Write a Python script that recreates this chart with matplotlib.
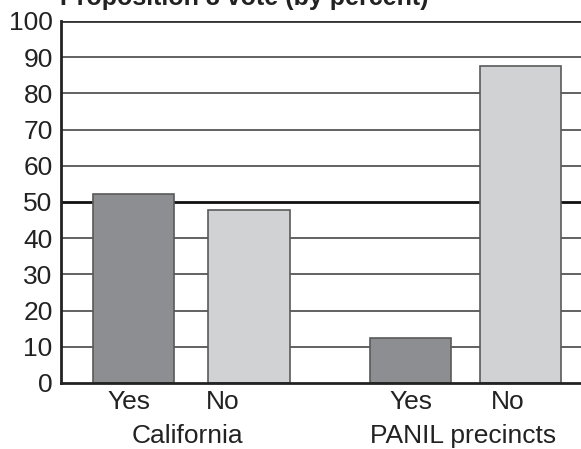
import matplotlib.pyplot as plt

plt.rcParams['font.family'] = ['Liberation Sans', 'DejaVu Sans']

# Данные
groups = ['California', 'PANIL precincts']
answers = ['Yes', 'No', 'Yes', 'No']
values = [52.3, 47.7, 12.5, 87.5]
positions = [0, 1.05, 2.52, 3.52]
label_pos = [-0.04, 0.81, 2.52, 3.40]
yticks = list(range(0, 101, 10))

colors = ['#8d8e91', '#d1d2d4', '#8d8e91', '#d1d2d4']

fig = plt.figure(figsize=(5.81, 4.49), dpi=100)
ax = fig.add_axes([61 / 581, 1 - 383 / 449, 1 - 61 / 581, (383 - 21) / 449])

# Сетка
for y in yticks[1:]:
    if y == 50:
        ax.axhline(y, color='#111111', linewidth=2.0, zorder=1)
    elif y == 100:
        ax.axhline(y, color='#333333', linewidth=2.0, zorder=1)
    else:
        ax.axhline(y, color='#555555', linewidth=1.3, zorder=1)

ax.bar(positions, values, width=0.74, color=colors, edgecolor='#5a5a5a',
       linewidth=1.2, zorder=2)

ax.set_ylim(0, 100)
ax.set_xlim(-0.66, 4.07)
ax.set_yticks(yticks)
ax.set_yticklabels([str(y) for y in yticks], fontsize=19, color='#222222')
ax.set_xticks(label_pos)
ax.set_xticklabels(answers, fontsize=19, color='#222222')
ax.tick_params(length=0, pad=6)
ax.tick_params(axis='x', pad=5)

for side in ['top', 'right']:
    ax.spines[side].set_visible(False)
ax.spines['left'].set_linewidth(2.0)
ax.spines['bottom'].set_linewidth(2.0)
ax.spines['left'].set_color('#222222')
ax.spines['bottom'].set_color('#222222')

# Подписи групп
ax.text(0.49, -14.6, groups[0], ha='center', va='center', fontsize=19,
        color='#222222')
ax.text(3.0, -14.6, groups[1], ha='center', va='center', fontsize=19,
        color='#222222')

# Обрезанный заголовок (в оригинале виден только низ букв)
fig.text(60 / 581, 1 - 5 / 449, 'Proposition 8 vote (by percent)',
         fontsize=18, fontweight='bold', ha='left', va='baseline',
         color='#222222')

fig.savefig('out.png', dpi=100)
